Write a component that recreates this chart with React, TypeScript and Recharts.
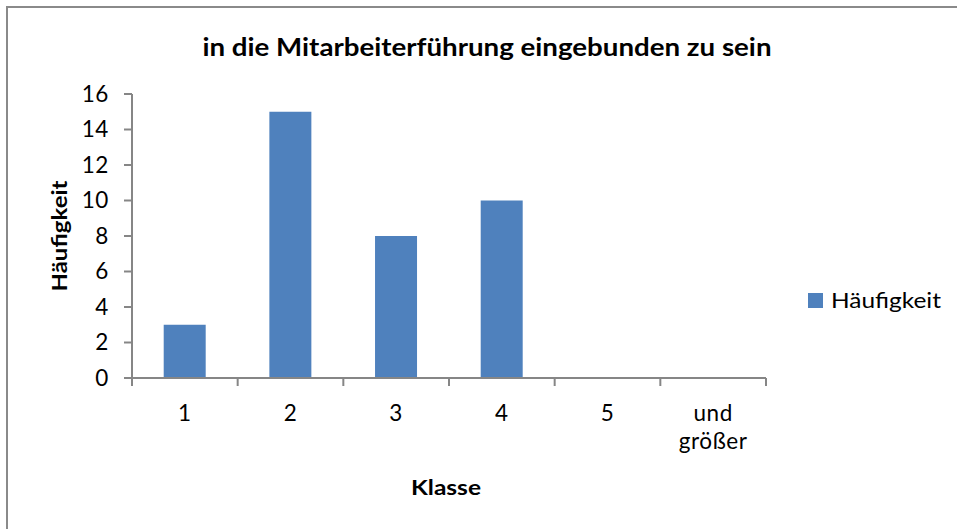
import React from 'react';
import { BarChart, Bar, XAxis, YAxis, Legend } from 'recharts';

const categories = ['1', '2', '3', '4', '5', 'und größer'];
const frequencies = [3, 15, 8, 10, 0, 0];
const yTicks = [0, 2, 4, 6, 8, 10, 12, 14, 16];

const data = categories.map((klasse, i) => ({ klasse, haeufigkeit: frequencies[i] }));

const FONT = 'Lato, "Open Sans", sans-serif';
const AXIS = '#868686';
const BAR = '#4F81BD';

const W = 957;
const H = 529;
const PLOT_LEFT = 132;
const PLOT_RIGHT = 766;
const PLOT_TOP = 94;
const PLOT_BOTTOM = 378;
const Y_AXIS_W = 74;
const BAND = (PLOT_RIGHT - PLOT_LEFT) / categories.length;

const XTick = (props: any) => {
  const { x, y, payload, index } = props;
  const lines = String(payload.value).split(' ');
  return (
    <g>
      <line x1={x - BAND / 2} y1={y} x2={x - BAND / 2} y2={y + 8} stroke={AXIS} strokeWidth={2} />
      {index === categories.length - 1 && (
        <line x1={x + BAND / 2} y1={y} x2={x + BAND / 2} y2={y + 8} stroke={AXIS} strokeWidth={2} />
      )}
      {lines.map((l, i) => (
        <text key={i} x={x} y={y + 43 + i * 28} textAnchor="middle" fontSize={22.5} fill="#000" fontFamily={FONT}
          letterSpacing={0.6}>
          {l}
        </text>
      ))}
    </g>
  );
};

const LegendBox = (props: any) => {
  const item = props.payload && props.payload[0];
  if (!item) return null;
  return (
    <svg width={150} height={30} style={{ display: 'block' }}>
      <rect x={0} y={7} width={15} height={15} fill={item.color} />
      <text x={23} y={22} fontFamily={FONT} fontSize={21.5} fill="#000" textLength={110} lengthAdjust="spacingAndGlyphs">
        {item.value}
      </text>
    </svg>
  );
};

export default function App() {
  return (
    <div style={{ position: 'absolute', left: 0, top: 0, width: W, height: H, overflow: 'hidden', background: '#fff' }}>
      <div
        style={{
          position: 'absolute', left: 6, top: 6, width: 1100, height: 700,
          borderLeft: '2px solid #8a8a8a', borderTop: '2px solid #8a8a8a',
        }}
      />
      <svg style={{ position: 'absolute', left: 0, top: 0 }} width={W} height={80}>
        <text x={487} y={56} textAnchor="middle" fontFamily={FONT} fontWeight={700} fontSize={25}
          textLength={569} lengthAdjust="spacingAndGlyphs" fill="#000">
          in die Mitarbeiterführung eingebunden zu sein
        </text>
      </svg>
      <div style={{ position: 'absolute', left: 0, top: 0 }}>
        <BarChart
          width={W}
          height={H}
          data={data}
          margin={{ top: PLOT_TOP, right: W - PLOT_RIGHT, bottom: 21, left: PLOT_LEFT - Y_AXIS_W }}
          barCategoryGap="30%"
        >
          <XAxis
            dataKey="klasse"
            height={H - PLOT_BOTTOM - 21}
            axisLine={{ stroke: AXIS, strokeWidth: 2 }}
            tickLine={false}
            tickSize={0}
            tickMargin={0}
            interval={0}
            tick={<XTick />}
            label={(p: any) => {
              const vb = p.viewBox;
              return (
                <text x={vb.x + vb.width / 2 - 3} y={vb.y + 117} textAnchor="middle" fontSize={21} fontWeight={700}
                  fontFamily={FONT} fill="#000" textLength={70} lengthAdjust="spacingAndGlyphs">
                  Klasse
                </text>
              );
            }}
          />
          <YAxis
            width={Y_AXIS_W}
            domain={[0, 16]}
            ticks={yTicks}
            interval={0}
            axisLine={{ stroke: AXIS, strokeWidth: 2 }}
            tickLine={{ stroke: AXIS, strokeWidth: 2 }}
            tickSize={8}
            tickMargin={15}
            tick={{ fontSize: 22.5, fill: '#000', fontFamily: FONT, letterSpacing: 0.6 }}
            label={(p: any) => {
              const vb = p.viewBox;
              const cx = 67;
              const cy = vb.y + vb.height / 2;
              return (
                <text x={cx} y={cy} transform={`rotate(-90 ${cx} ${cy})`} textAnchor="middle" fontSize={21}
                  fontWeight={700} fontFamily={FONT} fill="#000" textLength={111} lengthAdjust="spacingAndGlyphs">
                  Häufigkeit
                </text>
              );
            }}
          />
          <Legend
            layout="horizontal"
            verticalAlign="middle"
            align="center"
            content={<LegendBox />}
            wrapperStyle={{ left: 808, top: 286, width: 150 }}
          />
          <Bar dataKey="haeufigkeit" name="Häufigkeit" fill={BAR} isAnimationActive={false} />
        </BarChart>
      </div>
    </div>
  );
}
